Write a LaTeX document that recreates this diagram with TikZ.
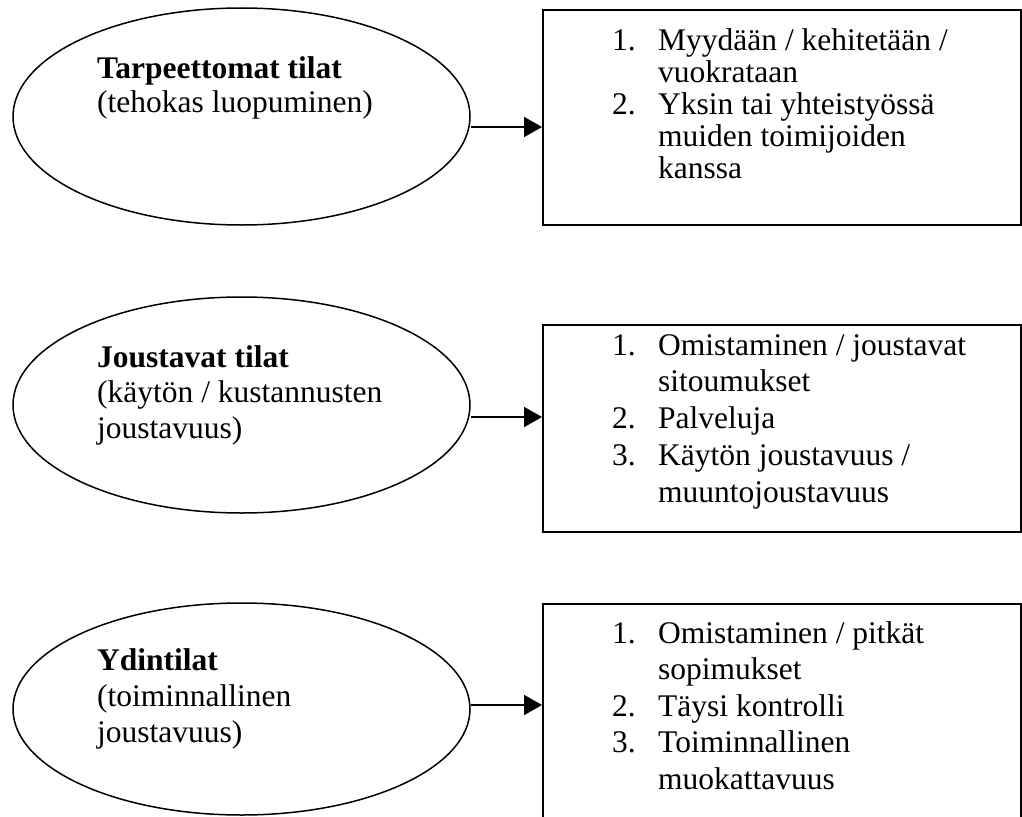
\documentclass[tikz,border=0pt]{standalone}
\usepackage{fontspec}
\setmainfont{Liberation Serif}
\usetikzlibrary{shapes.geometric,arrows.meta}
\tikzset{
  oval/.style={draw, ellipse, line width=1.5pt, inner sep=0pt},
  listbox/.style={draw, rectangle, line width=2pt, inner sep=0pt, anchor=north west},
  txt/.style={anchor=base west, align=left, inner sep=0pt, font=\fontsize{31.5}{36}\selectfont},
  arr/.style={line width=1.8pt, -{Triangle[length=18pt,width=20pt]}}
}
\newcommand{\itm}[1]{\makebox[46pt][l]{#1}}
\newcommand{\ind}{\makebox[46pt]{}}
\begin{document}
\begin{tikzpicture}[x=1pt,y=-1pt]
\useasboundingbox (0,0) rectangle (1022,816);
\clip (0,0) rectangle (1022,816);
% ellipses
\node[oval, minimum width=457pt, minimum height=217pt] (e1) at (241.5,116.5) {};
\node[oval, minimum width=457pt, minimum height=216pt] (e2) at (241.5,405) {};
\node[oval, minimum width=457pt, minimum height=212pt] (e3) at (241.5,709) {};
% ellipse texts (anchor = baseline of last line)
\node[txt, font=\fontsize{31.5}{34}\selectfont] (t1) at (97,112) {\textbf{Tarpeettomat tilat}\\(tehokas luopuminen)};
\node[txt, font=\fontsize{31.5}{35.5}\selectfont] (t2) at (97,438) {\textbf{Joustavat tilat}\\(käytön / kustannusten\\joustavuus)};
\node[txt] (t3) at (97,742) {\textbf{Ydintilat}\\(toiminnallinen\\joustavuus)};
% boxes
\node[listbox, minimum width=478pt, minimum height=215pt] (b1) at (542,9) {};
\node[listbox, minimum width=478pt, minimum height=207pt] (b2) at (542,324) {};
\node[listbox, minimum width=478pt, minimum height=230pt] (b3) at (542,603) {};
% box texts
\node[txt, font=\fontsize{31.5}{32}\selectfont] (l1) at (612,178) {\itm{1.}Myydään / kehitetään /\\\ind vuokrataan\\\itm{2.}Yksin tai yhteistyössä\\\ind muiden toimijoiden\\\ind kanssa};
\node[txt, font=\fontsize{31.5}{36.7}\selectfont] (l2) at (612,502) {\itm{1.}Omistaminen / joustavat\\\ind sitoumukset\\\itm{2.}Palveluja\\\itm{3.}Käytön joustavuus /\\\ind muuntojoustavuus};
\node[txt, font=\fontsize{31.5}{36.5}\selectfont] (l3) at (612,789) {\itm{1.}Omistaminen / pitkät\\\ind sopimukset\\\itm{2.}Täysi kontrolli\\\itm{3.}Toiminnallinen\\\ind muokattavuus};
% arrows
\draw[arr] ([yshift=-10.5pt]e1.east) -- ([yshift=-10.5pt]e1.east -| b1.west);
\draw[arr] ([yshift=-12pt]e2.east) -- ([yshift=-12pt]e2.east -| b2.west);
\draw[arr] ([yshift=4pt]e3.east) -- ([yshift=4pt]e3.east -| b3.west);
\end{tikzpicture}
\end{document}
